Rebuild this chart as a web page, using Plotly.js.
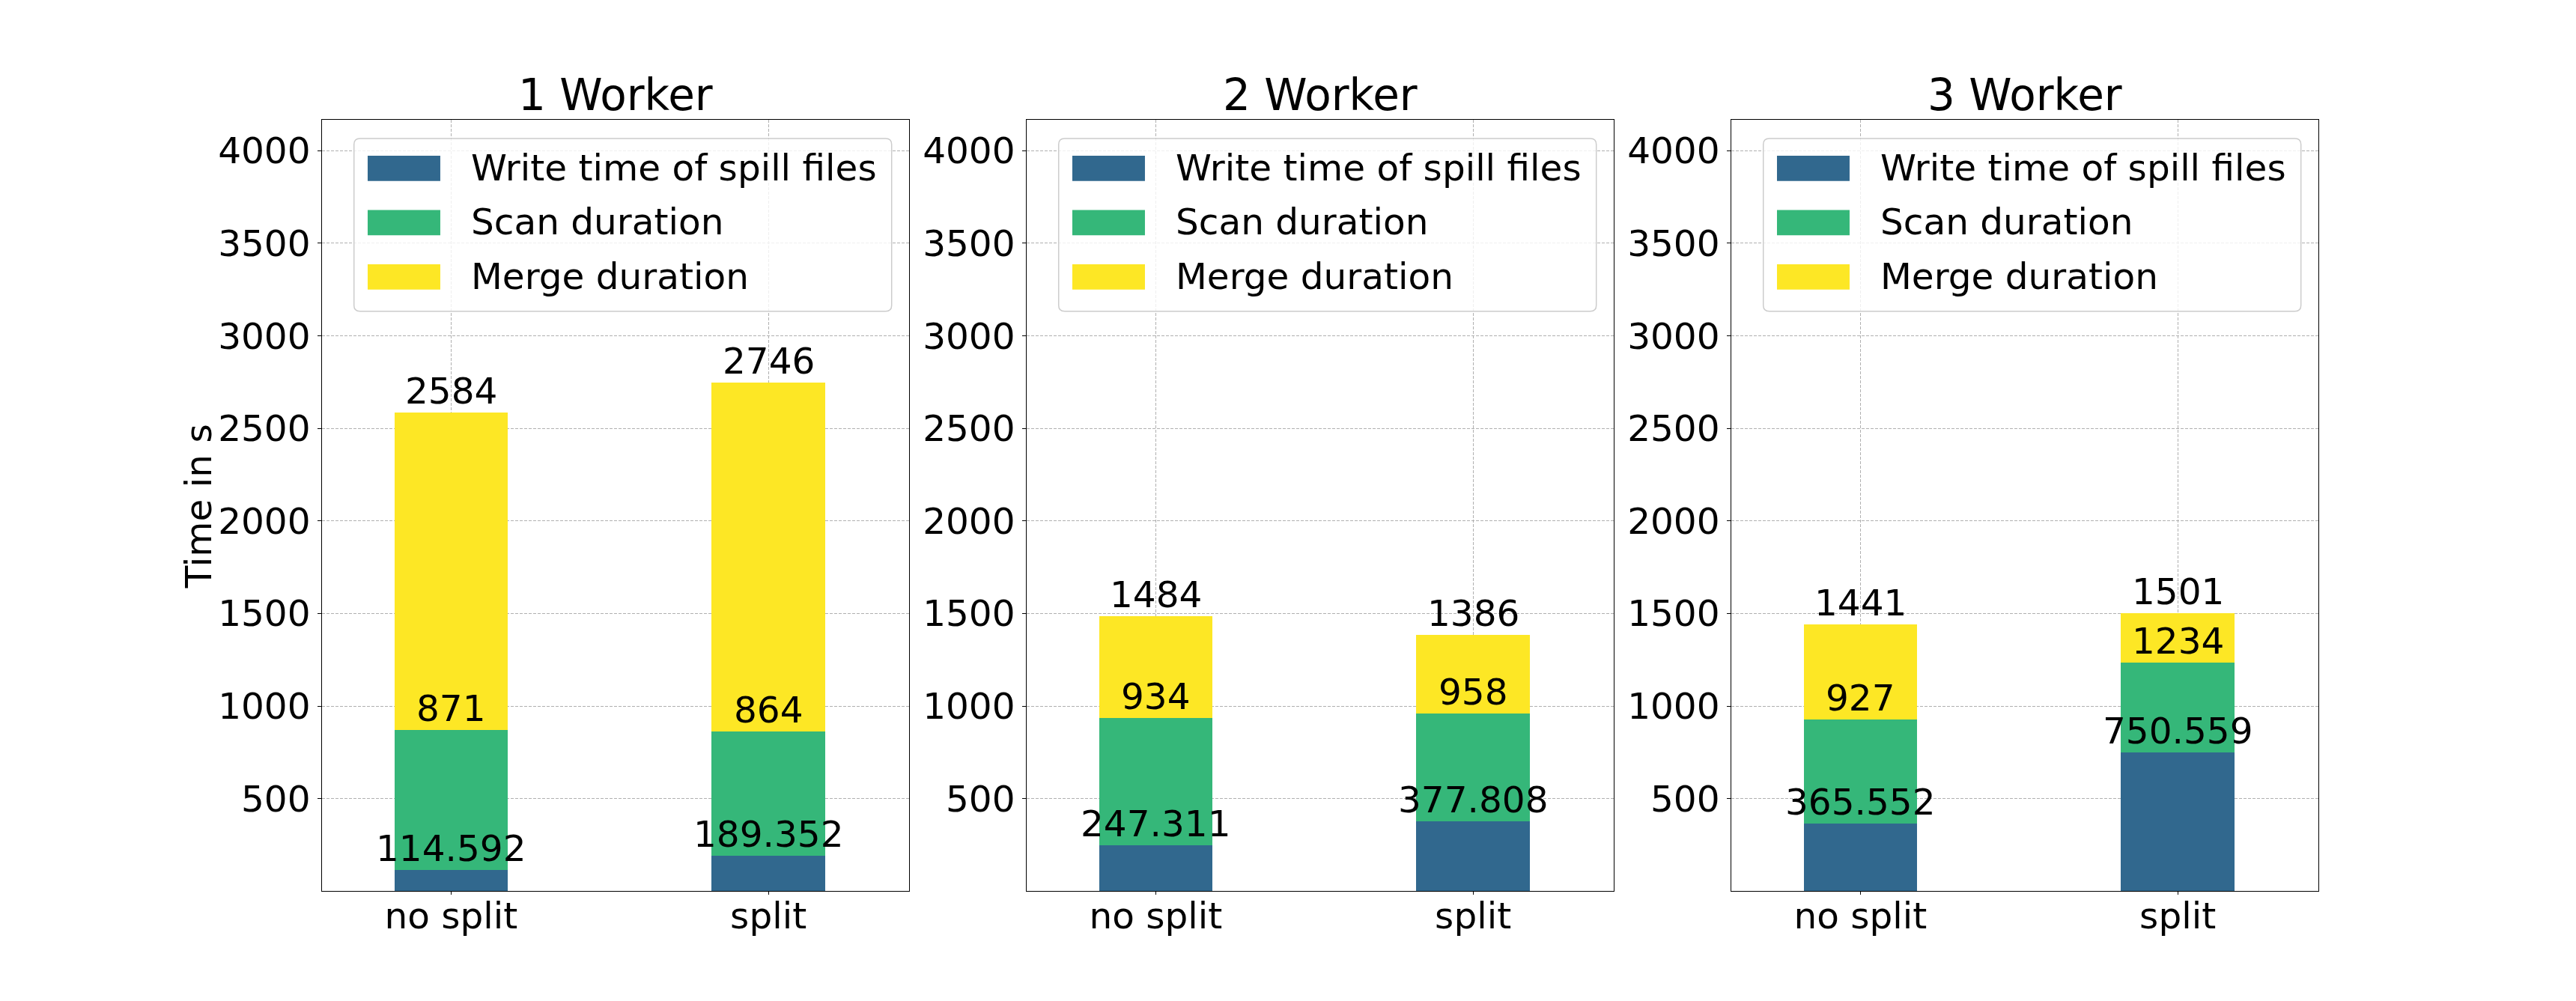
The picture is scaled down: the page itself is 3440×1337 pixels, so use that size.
<!DOCTYPE html>
<html>
<head>
<meta charset="utf-8">
<script src="https://cdn.plot.ly/plotly-3.0.1.min.js"></script>
<style>html,body{margin:0;padding:0;background:#fff;}</style>
</head>
<body>
<div id="chart" style="width:3440px;height:1337px;"></div>
<script>
// ---- data ----
const workers = ['1 Worker', '2 Worker', '3 Worker'];
const categories = ['no split', 'split'];
const seriesNames = ['Write time of spill files', 'Scan duration', 'Merge duration'];
const seriesColors = ['#31688e', '#35b779', '#fde725'];
// cumulative end times per worker setup: [no split, split]
const writeTime = [[114.592, 189.352], [247.311, 377.808], [365.552, 750.559]];
const scanEnd   = [[871, 864], [934, 958], [927, 1234]];
const mergeEnd  = [[2584, 2746], [1484, 1386], [1441, 1501]];
const yTicks = [500, 1000, 1500, 2000, 2500, 3000, 3500, 4000];
const yRange = [0, 4166];
const yTitle = 'Time in s';

// ---- layout geometry ----
const W = 3440, H = 1337;
const panelLeft = [430.3, 1371.3, 2312.3];
const panelWidth = 784;
const plotTop = 160.3, plotBottom = 1190.3;
const FONT = 'DejaVu Sans';
const FS = 48.5, FS_TITLE = 58;
const gridColor = '#b0b0b0';

const traces = [];
const annotations = [];
const shapes = [];
const layout = {
  width: W, height: H,
  margin: {l: 0, r: 0, t: 0, b: 0},
  paper_bgcolor: '#ffffff',
  plot_bgcolor: '#ffffff',
  barmode: 'stack',
  showlegend: false,
  font: {family: FONT, size: FS, color: '#000'}
};

const yDom = [(H - plotBottom) / H, (H - plotTop) / H];
const plotH = plotBottom - plotTop;

workers.forEach((wname, p) => {
  const sfx = p === 0 ? '' : String(p + 1);
  const xa = 'x' + sfx, ya = 'y' + sfx;
  const x0 = panelLeft[p] / W, x1 = (panelLeft[p] + panelWidth) / W;

  const scanDur = scanEnd[p].map((v, i) => v - writeTime[p][i]);
  const mergeDur = mergeEnd[p].map((v, i) => v - scanEnd[p][i]);
  const segs = [writeTime[p], scanDur, mergeDur];
  segs.forEach((vals, s) => {
    traces.push({
      type: 'bar', x: categories, y: vals, name: seriesNames[s],
      xaxis: xa, yaxis: ya, width: 0.357,
      marker: {color: seriesColors[s], line: {width: 0}},
      hovertemplate: '%{x}: %{y}<extra>' + seriesNames[s] + '</extra>'
    });
  });

  layout['xaxis' + sfx] = {
    domain: [x0, x1], anchor: ya, type: 'category',
    range: [-0.406, 1.444],
    showline: true, mirror: true, linecolor: '#000', linewidth: 1,
    ticks: 'outside', ticklen: 4, tickwidth: 1, tickcolor: '#000',
    ticklabelstandoff: -14,
    tickfont: {family: FONT, size: FS, color: '#000'},
    showgrid: true, gridcolor: gridColor, gridwidth: 1, griddash: '4px,2px',
    zeroline: false, fixedrange: true
  };
  layout['yaxis' + sfx] = {
    domain: yDom, anchor: xa, range: yRange,
    tickmode: 'array', tickvals: yTicks, ticktext: yTicks.map(String),
    showline: true, mirror: true, linecolor: '#000', linewidth: 1,
    ticks: 'outside', ticklen: 5, tickwidth: 1, tickcolor: '#000',
    ticklabelstandoff: 0,
    tickfont: {family: FONT, size: FS, color: '#000'},
    showgrid: true, gridcolor: gridColor, gridwidth: 1, griddash: '4px,2px',
    zeroline: false, fixedrange: true
  };

  // subplot title
  annotations.push({
    text: wname, xref: xa + ' domain', yref: ya + ' domain',
    x: 0.5, y: 1, xanchor: 'center', yanchor: 'bottom', yshift: -2,
    showarrow: false, borderpad: 0,
    font: {family: FONT, size: FS_TITLE, color: '#000'}
  });

  // value labels at the end of each segment
  categories.forEach((c, i) => {
    [writeTime[p][i], scanEnd[p][i], mergeEnd[p][i]].forEach(v => {
      annotations.push({
        text: String(v), xref: xa, yref: ya, x: c, y: v,
        xanchor: 'center', yanchor: 'bottom', yshift: 0,
        showarrow: false, borderpad: 0,
        font: {family: FONT, size: FS, color: '#000'}
      });
    });
  });

  // legend box (rounded) in axis-domain coordinates
  const bx0 = 0.0541, bx1 = 0.9699, by0 = 0.75204, by1 = 0.97602;
  const rx = 8 / panelWidth, ry = 8 / plotH;
  const path = `M${bx0 + rx},${by1} L${bx1 - rx},${by1} Q${bx1},${by1} ${bx1},${by1 - ry} ` +
               `L${bx1},${by0 + ry} Q${bx1},${by0} ${bx1 - rx},${by0} L${bx0 + rx},${by0} ` +
               `Q${bx0},${by0} ${bx0},${by0 + ry} L${bx0},${by1 - ry} Q${bx0},${by1} ${bx0 + rx},${by1} Z`;
  shapes.push({
    type: 'path', xref: xa + ' domain', yref: ya + ' domain', path: path,
    fillcolor: 'rgba(255,255,255,0.8)', line: {color: '#cccccc', width: 1.5}, layer: 'above'
  });
  const rowCenters = [224.85, 297.35, 369.85];
  seriesNames.forEach((nm, s) => {
    const cy = (plotBottom - rowCenters[s]) / plotH;
    const hh = 33.7 / 2 / plotH;
    shapes.push({
      type: 'rect', xref: xa + ' domain', yref: ya + ' domain',
      x0: 0.0774, x1: 0.2011, y0: cy - hh, y1: cy + hh,
      fillcolor: seriesColors[s], line: {width: 0}, layer: 'above'
    });
    annotations.push({
      text: nm, xref: xa + ' domain', yref: ya + ' domain',
      x: 0.2528, y: cy, xanchor: 'left', yanchor: 'middle', yshift: 1,
      showarrow: false, borderpad: 0,
      font: {family: FONT, size: FS, color: '#000'}
    });
  });
});

// y-axis title of the first panel
annotations.push({
  text: yTitle, xref: 'paper', yref: 'y domain',
  x: 264.5 / W, y: 0.5, xanchor: 'center', yanchor: 'middle', yshift: -1.5,
  textangle: -90, showarrow: false, borderpad: 0,
  font: {family: FONT, size: FS, color: '#000'}
});

layout.annotations = annotations;
layout.shapes = shapes;

Plotly.newPlot('chart', traces, layout, {displayModeBar: false, staticPlot: true});
</script>
</body>
</html>
